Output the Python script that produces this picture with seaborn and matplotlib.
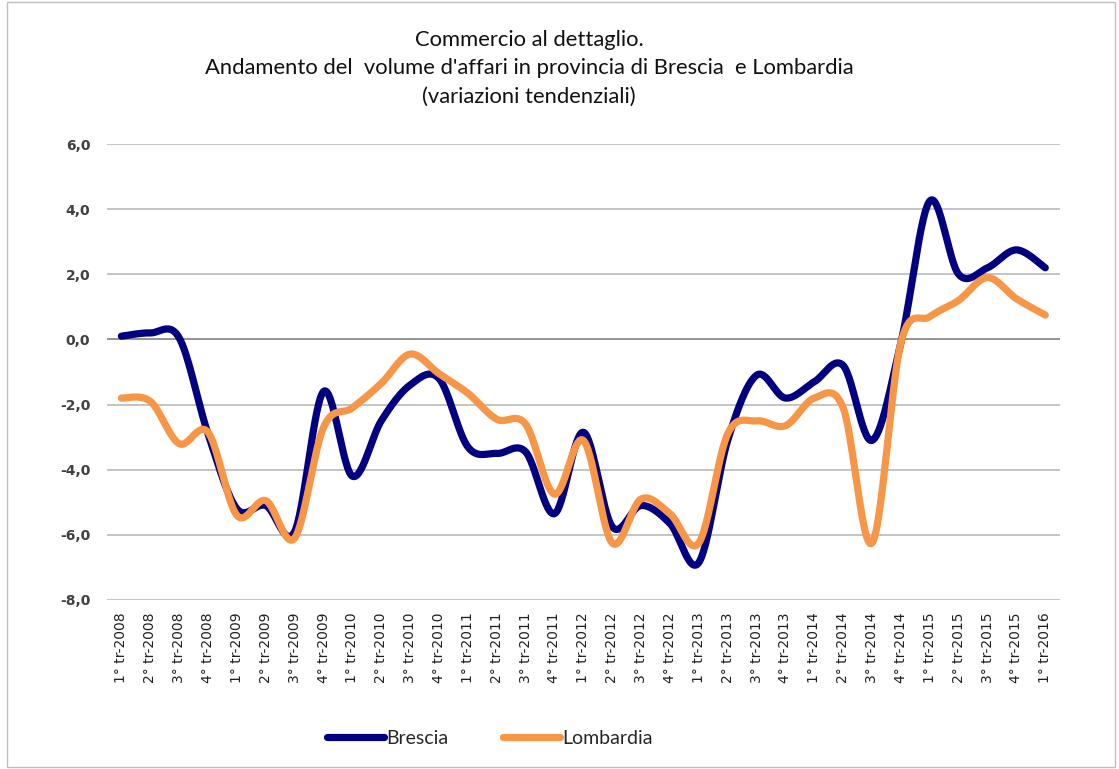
import numpy as np
import pandas as pd
import matplotlib
matplotlib.use("Agg")
import matplotlib.pyplot as plt
import seaborn as sns
from matplotlib.lines import Line2D

quarters = ["1° tr-2008", "2° tr-2008", "3° tr-2008", "4° tr-2008",
            "1° tr-2009", "2° tr-2009", "3° tr-2009", "4° tr-2009",
            "1° tr-2010", "2° tr-2010", "3° tr-2010", "4° tr-2010",
            "1° tr-2011", "2° tr-2011", "3° tr-2011", "4° tr-2011",
            "1° tr-2012", "2° tr-2012", "3° tr-2012", "4° tr-2012",
            "1° tr-2013", "2° tr-2013", "3° tr-2013", "4° tr-2013",
            "1° tr-2014", "2° tr-2014", "3° tr-2014", "4° tr-2014",
            "1° tr-2015", "2° tr-2015", "3° tr-2015", "4° tr-2015",
            "1° tr-2016"]

brescia = [0.1, 0.2, 0.05, -2.9, -5.2, -5.1, -5.9, -1.6, -4.2, -2.5, -1.4, -1.2,
           -3.3, -3.5, -3.45, -5.35, -2.85, -5.75, -5.1, -5.65, -6.85, -3.1,
           -1.1, -1.8, -1.3, -0.8, -3.1, -0.1, 4.25, 2.0, 2.2, 2.75, 2.2]

lombardia = [-1.8, -1.9, -3.2, -2.85, -5.4, -4.95, -6.1, -2.7, -2.1, -1.35, -0.45, -1.05,
             -1.65, -2.45, -2.6, -4.75, -3.1, -6.25, -4.9, -5.35, -6.25, -2.9,
             -2.5, -2.65, -1.8, -2.1, -6.25, -0.1, 0.7, 1.2, 1.9, 1.25, 0.75]

yticks = [-8, -6, -4, -2, 0, 2, 4, 6]


def smooth(y, n=30):
    """Bezier smoothing through the points (like Excel's smoothed line)."""
    y = np.asarray(y, float)
    x = np.arange(len(y), dtype=float)
    P = np.column_stack([x, y])
    P = np.vstack([P[0], P, P[-1]])
    out = []
    t = np.linspace(0, 1, n, endpoint=False)[:, None]
    for i in range(1, len(P) - 2):
        p0, p1, p2, p3 = P[i - 1], P[i], P[i + 1], P[i + 2]
        c1 = p1 + (p2 - p0) / 6.0
        c2 = p2 - (p3 - p1) / 6.0
        seg = ((1 - t) ** 3) * p1 + 3 * ((1 - t) ** 2) * t * c1 + 3 * (1 - t) * t ** 2 * c2 + t ** 3 * p2
        out.append(seg)
    out.append(P[-2][None, :])
    arr = np.vstack(out)
    return arr[:, 0], arr[:, 1]


frames = []
for name, vals in [("Brescia", brescia), ("Lombardia", lombardia)]:
    xs, ys = smooth(vals)
    frames.append(pd.DataFrame({"x": xs, "y": ys, "serie": name}))
df = pd.concat(frames, ignore_index=True)

sns.set_theme(style="white")
plt.rcParams['font.family'] = ['Lato', 'DejaVu Sans']

fig = plt.figure(figsize=(11.19, 7.69), dpi=100)
ax = fig.add_axes([0.0956, 0.2198, 0.8514, 0.5929])

palette = {"Brescia": "#000080", "Lombardia": "#F79646"}
sns.lineplot(data=df, x="x", y="y", hue="serie", palette=palette, lw=5.2,
             sort=False, estimator=None, ax=ax, legend=False,
             solid_capstyle="round")

ax.set_xlim(-0.5, len(quarters) - 0.5)
ax.set_ylim(-8, 6)
ax.set_yticks(yticks)
ax.set_yticklabels([f"{v:.1f}".replace(".", ",") for v in yticks],
                   fontsize=10, fontweight="bold", color="#404040", family="DejaVu Sans")
ax.set_xticks(range(len(quarters)))
ax.set_xticklabels(quarters, rotation=90, fontsize=10, color="#202020", family="DejaVu Sans")
ax.tick_params(axis="x", length=0, pad=9)
ax.tick_params(axis="y", length=0, pad=12)

for v in yticks:
    ax.axhline(v, color="#808080" if v == 0 else "#BFBFBF", lw=1.2 if v == 0 else 1.3, zorder=0)
for s in ax.spines.values():
    s.set_visible(False)
ax.set_xlabel("")
ax.set_ylabel("")

title_kw = dict(ha="center", va="center", fontsize=15.8, color="#111111")
fig.text(0.473, 0.948, "Commercio al dettaglio.", **title_kw)
fig.text(0.473, 0.911, "Andamento del  volume d'affari in provincia di Brescia  e Lombardia", **title_kw)
fig.text(0.473, 0.874, "(variazioni tendenziali)", **title_kw)

handles = [Line2D([0], [0], color=palette["Brescia"], lw=5.2, solid_capstyle="round"),
           Line2D([0], [0], color=palette["Lombardia"], lw=5.2, solid_capstyle="round")]
fig.legend(handles, ["Brescia", "Lombardia"], loc="center", bbox_to_anchor=(0.438, 0.04),
           ncol=2, frameon=False, fontsize=14, handlelength=2.9, handletextpad=0.15,
           columnspacing=2.8)

border = plt.Rectangle((0.006, 0.002), 0.99, 0.996, transform=fig.transFigure,
                       fill=False, edgecolor="#BFBFBF", lw=1)
fig.patches.append(border)

fig.savefig("out.png", dpi=100)
